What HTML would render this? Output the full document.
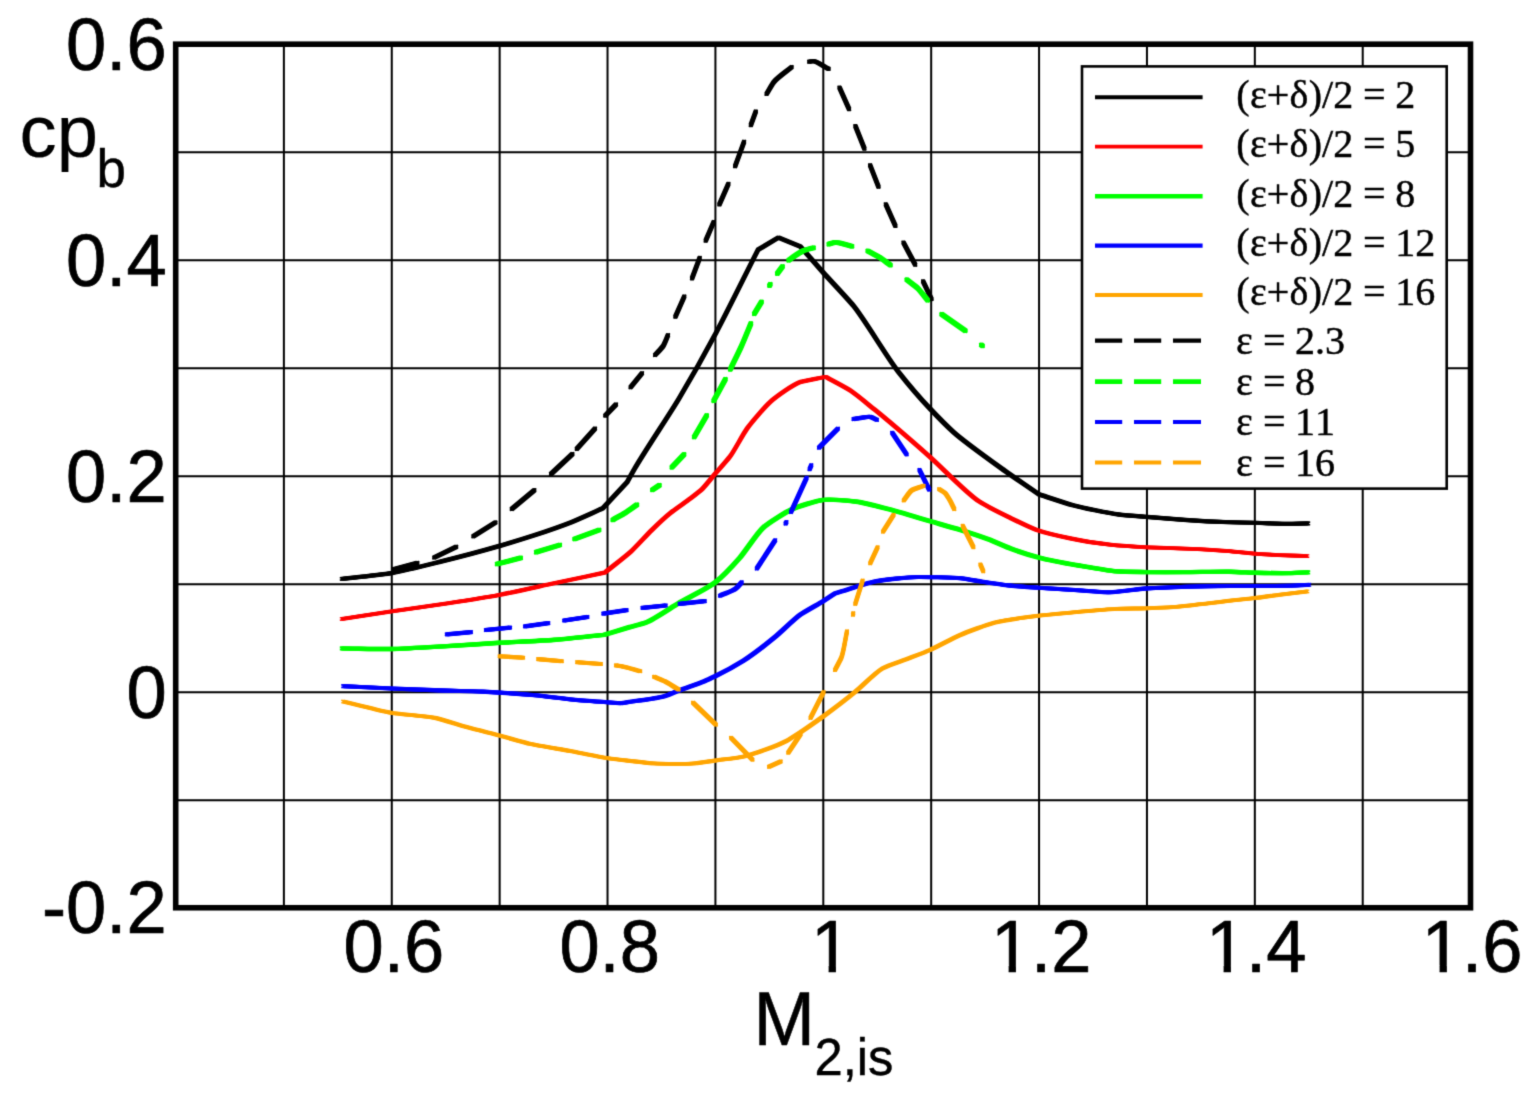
<!DOCTYPE html>
<html lang="en"><head><meta charset="utf-8"><title>Base pressure coefficient vs isentropic Mach number</title>
<style>html,body{margin:0;padding:0;background:#fff;}body{width:1533px;height:1095px;overflow:hidden;}svg{display:block;}.ax{font-family:"Liberation Sans",Arial,Helvetica,sans-serif;fill:#000;}.lg{font-family:"Liberation Serif","Times New Roman",Times,serif;fill:#000;}</style></head><body>
<svg width="1533" height="1095" viewBox="0 0 1533 1095">
<defs><filter id="bl" filterUnits="userSpaceOnUse" x="0" y="0" width="1533" height="1095" color-interpolation-filters="sRGB"><feConvolveMatrix order="3" kernelMatrix="1 5 1 5 25 5 1 5 1" divisor="49" edgeMode="duplicate" preserveAlpha="true"/></filter></defs>
<g filter="url(#bl)">
<rect width="1533" height="1095" fill="#fff"/>
<path d="M283.88 44.25V908.20M391.77 44.25V908.20M499.65 44.25V908.20M607.53 44.25V908.20M715.42 44.25V908.20M823.30 44.25V908.20M931.18 44.25V908.20M1039.07 44.25V908.20M1146.95 44.25V908.20M1254.83 44.25V908.20M1362.72 44.25V908.20M176.00 152.24H1470.60M176.00 260.24H1470.60M176.00 368.23H1470.60M176.00 476.23H1470.60M176.00 584.22H1470.60M176.00 692.21H1470.60M176.00 800.21H1470.60" fill="none" stroke="#000" stroke-width="2.0"/>
<defs><path id="c-black" d="M341.0 579.0C357.9 577.0 380.6 575.0 391.6 573.1C402.3 571.2 429.1 564.5 439.6 561.9C452.9 558.6 486.6 549.7 499.7 545.9C507.2 543.7 526.1 537.9 533.5 535.5C541.7 532.8 562.6 525.6 570.7 522.4C577.9 519.6 592.1 513.0 602.8 508.3L627.0 482.3C629.6 477.7 633.1 471.4 634.8 468.4C643.8 452.7 669.5 414.4 678.8 398.8C687.4 384.4 708.4 347.1 716.3 332.3C725.9 314.4 744.1 277.3 758.0 249.8L778.3 237.6L800.3 246.5C808.0 255.2 818.2 266.9 823.3 272.6C829.9 280.0 847.3 298.2 853.5 305.8C864.5 319.3 887.3 357.7 898.1 371.4C904.8 379.9 922.6 400.8 930.0 408.6C935.0 413.9 948.1 427.2 953.5 432.1C963.9 441.5 993.0 462.3 1004.4 470.5C1011.9 475.9 1027.5 486.4 1039.0 494.4C1050.3 498.0 1065.4 503.2 1072.9 505.2C1082.6 507.8 1107.9 513.1 1117.9 514.4C1124.2 515.2 1140.3 516.4 1146.6 516.9C1154.9 517.6 1176.1 519.3 1184.4 519.9C1194.4 520.6 1220.0 521.9 1230.0 522.2C1235.4 522.4 1249.1 522.7 1254.5 522.8C1262.0 523.0 1281.2 523.8 1288.7 523.8C1293.2 523.8 1302.2 523.5 1309.0 523.4"/></defs><g fill="none" stroke="#000000" stroke-width="1.75" stroke-linecap="butt" stroke-linejoin="round"><use href="#c-black" stroke-width="3.75"/><use href="#c-black" x="-1.2" y="-1.2"/><use href="#c-black" x="-1.2" y="1.2"/><use href="#c-black" x="1.2" y="-1.2"/><use href="#c-black" x="1.2" y="1.2"/></g>
<defs><path id="c-red" d="M341.0 619.1C357.9 616.5 380.5 613.0 391.6 611.4C403.9 609.6 435.1 605.3 447.4 603.4C458.9 601.6 488.2 597.0 499.7 594.8C511.1 592.7 539.8 586.3 551.1 583.9C563.0 581.4 587.0 576.3 605.0 572.5C613.8 565.4 625.8 556.2 631.3 551.2C636.0 546.8 647.0 534.7 651.6 530.2C655.6 526.3 666.0 516.5 670.4 513.0C674.0 510.1 683.9 503.3 687.6 500.5C690.7 498.1 698.9 492.2 701.7 489.5C705.0 486.4 712.1 477.3 715.0 473.9C718.3 470.1 726.9 460.7 729.9 456.7C734.3 450.9 742.8 434.3 747.1 428.5C752.0 421.8 765.8 405.6 772.1 400.3C777.4 395.8 792.3 385.2 798.7 382.6C804.2 380.4 816.7 378.8 825.7 376.9C834.2 381.6 845.8 387.5 851.1 391.0C856.6 394.6 869.5 405.5 874.6 409.6C887.1 419.7 918.0 446.4 930.0 457.0C940.9 466.6 966.8 493.5 978.9 501.3C985.0 505.2 1001.7 513.7 1008.3 516.9C1014.3 519.8 1029.5 527.3 1035.7 529.6C1043.2 532.3 1063.1 536.9 1070.9 538.5C1079.4 540.3 1101.4 543.7 1110.0 544.7C1118.0 545.6 1138.5 546.9 1146.6 547.3C1154.9 547.7 1176.1 548.2 1184.4 548.6C1194.4 549.0 1220.0 550.3 1230.0 551.2C1235.4 551.7 1249.1 553.3 1254.5 553.7C1259.9 554.1 1273.5 554.8 1278.9 555.1C1285.3 555.4 1298.4 555.8 1308.1 556.1"/></defs><g fill="none" stroke="#ff0000" stroke-width="1.45" stroke-linecap="butt" stroke-linejoin="round"><use href="#c-red" stroke-width="3.45"/><use href="#c-red" x="-1.2" y="-1.2"/><use href="#c-red" x="-1.2" y="1.2"/><use href="#c-red" x="1.2" y="-1.2"/><use href="#c-red" x="1.2" y="1.2"/></g>
<defs><path id="c-green" d="M341.0 648.4C357.9 648.6 380.5 649.2 391.6 649.0C403.9 648.8 435.1 646.8 447.4 646.1C458.9 645.4 488.2 643.5 499.7 642.8C511.9 642.1 542.9 640.8 555.0 639.8C565.8 639.0 587.7 636.5 604.0 634.9C612.7 632.3 624.3 628.7 630.0 627.0C633.4 626.0 642.4 623.8 645.7 622.6C653.6 619.7 671.6 607.2 678.9 603.0C686.8 598.4 708.0 588.1 715.1 582.5C721.1 577.9 734.6 563.7 739.6 558.0C745.2 551.7 756.9 533.2 763.1 527.7C768.7 522.7 785.5 512.2 792.4 509.1C798.8 506.2 816.4 500.8 823.3 499.9C830.6 499.0 849.7 500.7 857.0 501.7C864.9 502.8 884.5 508.1 892.2 510.1C900.6 512.3 921.7 518.8 930.0 521.2C936.5 523.1 953.0 527.6 959.4 529.6C965.9 531.6 982.3 537.0 988.7 539.4C993.9 541.4 1006.9 547.3 1012.2 549.2C1018.0 551.3 1033.0 556.0 1039.0 557.6C1047.6 559.9 1069.9 564.0 1078.7 565.5C1086.9 566.9 1107.7 570.6 1115.9 571.3C1122.6 571.9 1139.8 572.0 1146.6 572.1C1154.9 572.2 1176.1 572.1 1184.4 572.1C1194.4 572.1 1220.0 571.5 1230.0 571.7C1235.4 571.8 1249.1 572.5 1254.5 572.7C1262.0 572.9 1281.2 573.3 1288.7 573.1C1293.2 573.0 1302.2 572.6 1309.0 572.3"/></defs><g fill="none" stroke="#00ff00" stroke-width="2.00" stroke-linecap="butt" stroke-linejoin="round"><use href="#c-green" stroke-width="4.00"/><use href="#c-green" x="-1.2" y="-1.2"/><use href="#c-green" x="-1.2" y="1.2"/><use href="#c-green" x="1.2" y="-1.2"/><use href="#c-green" x="1.2" y="1.2"/></g>
<defs><path id="c-blue" d="M342.4 686.1C358.8 686.9 380.8 688.0 391.6 688.5C403.9 689.0 435.1 690.2 447.4 690.6C455.1 690.8 474.9 691.2 482.6 691.6C486.4 691.8 495.9 692.4 499.7 692.6C507.6 693.1 527.6 694.6 535.5 695.3C544.1 696.1 566.0 699.0 574.6 699.8C581.8 700.5 600.3 701.8 607.5 702.3C610.6 702.5 618.5 703.3 621.6 703.1C623.5 703.0 628.2 702.1 630.0 701.8C637.8 700.6 657.8 698.3 665.2 695.9C668.3 694.9 675.9 691.6 678.9 690.4C684.5 688.2 698.9 683.5 704.4 681.2C706.8 680.2 712.8 677.4 715.1 676.3C721.5 673.2 737.5 664.5 743.5 660.7C750.7 656.1 768.1 642.7 774.8 637.2C780.6 632.5 794.2 619.0 800.3 614.7C805.1 611.3 818.3 604.2 823.3 601.1C826.0 599.4 831.4 595.8 835.5 593.2C848.5 589.3 865.8 583.3 874.6 581.5C883.9 579.6 908.2 577.3 917.7 577.0C922.6 576.9 935.1 577.2 940.0 577.3C944.7 577.4 956.6 577.8 961.3 578.3C965.6 578.8 976.6 580.8 980.9 581.5C986.9 582.4 1002.3 584.7 1008.3 585.4C1015.0 586.2 1032.2 587.3 1039.0 587.8C1047.7 588.4 1070.0 589.7 1078.7 590.3C1085.2 590.7 1101.6 592.3 1108.1 592.3C1116.6 592.3 1138.1 589.0 1146.6 588.4C1154.9 587.8 1176.1 587.1 1184.4 586.8C1194.4 586.5 1220.0 586.1 1230.0 586.0C1235.4 586.0 1249.1 586.0 1254.5 586.0C1262.0 586.0 1281.2 586.0 1288.7 585.8C1293.4 585.7 1302.9 585.1 1310.0 584.8"/></defs><g fill="none" stroke="#0000ff" stroke-width="1.70" stroke-linecap="butt" stroke-linejoin="round"><use href="#c-blue" stroke-width="3.70"/><use href="#c-blue" x="-1.2" y="-1.2"/><use href="#c-blue" x="-1.2" y="1.2"/><use href="#c-blue" x="1.2" y="-1.2"/><use href="#c-blue" x="1.2" y="1.2"/></g>
<defs><path id="c-orange" d="M342.4 701.4C358.8 705.2 380.7 711.0 391.6 712.9C401.2 714.5 426.2 715.9 435.7 718.0C442.7 719.5 460.1 725.3 467.0 727.2C474.2 729.2 492.5 733.7 499.7 735.6C506.7 737.5 524.5 742.6 531.6 744.2C540.1 746.1 562.1 749.5 570.7 751.1C578.8 752.6 599.4 756.9 607.5 758.1C612.4 758.8 625.0 760.3 630.0 760.9C635.2 761.5 648.3 763.1 653.5 763.4C662.5 764.0 685.6 764.2 694.6 763.4C699.1 763.0 710.6 761.1 715.1 760.5C721.3 759.6 737.4 758.0 743.5 756.6C753.3 754.4 777.8 745.7 786.6 740.9C790.1 739.0 798.8 733.3 802.2 731.1C806.9 728.0 818.7 719.7 823.3 716.4C830.4 711.2 848.2 697.6 855.0 692.0C861.2 687.0 875.6 672.3 882.4 668.5C887.6 665.6 902.3 660.9 907.9 658.7C912.8 656.8 925.2 652.1 930.0 650.0C936.6 647.1 952.8 638.2 959.4 635.3C966.9 632.0 986.7 624.7 994.6 622.6C1004.1 620.1 1029.2 616.9 1039.0 615.7C1047.7 614.6 1070.0 612.6 1078.7 611.8C1086.9 611.1 1107.7 609.3 1115.9 608.9C1122.6 608.6 1139.8 608.5 1146.6 608.3C1152.8 608.1 1168.5 607.4 1174.6 606.9C1181.9 606.3 1200.6 604.2 1207.9 603.4C1212.8 602.8 1225.1 601.3 1230.0 600.7C1235.4 600.1 1249.1 598.7 1254.5 598.1C1259.9 597.5 1273.5 595.5 1278.9 594.8C1285.3 594.0 1298.4 592.5 1308.1 591.3"/></defs><g fill="none" stroke="#ffa500" stroke-width="1.45" stroke-linecap="butt" stroke-linejoin="round"><use href="#c-orange" stroke-width="3.45"/><use href="#c-orange" x="-1.2" y="-1.2"/><use href="#c-orange" x="-1.2" y="1.2"/><use href="#c-orange" x="1.2" y="-1.2"/><use href="#c-orange" x="1.2" y="1.2"/></g>
<defs><path id="c-dblack" d="M393.3 569.5L417.4 563.0M434.3 557.5L456.2 546.8M473.4 536.3L495.4 522.4M511.8 509.0L534.3 490.2M551.0 474.0L572.4 454.0M576.8 448.9L595.0 428.6M605.3 415.6L616.0 404.5M630.6 387.2L642.0 373.3M655.1 355.0C657.8 352.0 661.8 348.2 663.2 346.0C664.6 343.8 666.4 338.8 668.0 335.2M675.4 316.6L684.3 296.5M692.0 278.4L699.7 257.9M705.7 240.6L713.7 222.0M719.4 204.4L728.4 183.9M735.1 166.2L744.1 141.8M750.8 125.1L755.8 111.5M766.6 93.9C769.0 89.9 771.9 84.5 773.8 82.1C776.9 78.1 785.6 72.1 791.6 67.1M809.2 61.7C810.5 61.5 812.2 61.1 813.0 61.1C816.7 60.9 823.4 66.3 828.6 68.9M839.5 87.6L849.1 109.1M855.4 126.1L864.4 148.6M870.1 165.3L878.5 186.7M885.8 204.4L895.4 225.9M903.5 242.6L915.2 264.7M923.1 281.4L931.5 299.0"/></defs><g fill="none" stroke="#000000" stroke-width="1.95" stroke-linecap="round" stroke-linejoin="round"><use href="#c-dblack" stroke-width="3.95"/><use href="#c-dblack" x="-1.2" y="-1.2"/><use href="#c-dblack" x="-1.2" y="1.2"/><use href="#c-dblack" x="1.2" y="-1.2"/><use href="#c-dblack" x="1.2" y="1.2"/></g>
<defs><path id="c-dgreen" d="M497.1 564.0L520.7 557.9M536.2 552.2L559.8 545.0M574.6 539.0L599.1 530.0M612.8 519.9C616.8 517.6 622.4 514.6 625.0 513.0C627.7 511.3 632.9 507.5 636.9 504.8M652.4 489.9L659.4 485.2M671.9 467.3L684.0 454.4M694.2 437.0L706.7 415.5M713.7 400.7L725.4 379.3M730.3 369.4C734.0 361.6 739.2 351.2 741.5 346.0C743.7 341.1 747.8 331.0 750.9 323.5M754.3 313.8L761.5 301.9M769.5 285.6L770.3 284.2M777.3 273.5L782.5 266.5M788.7 260.3C790.8 258.8 793.6 256.7 795.0 255.8C796.8 254.6 801.5 251.5 803.5 250.6C805.6 249.7 810.2 248.7 813.5 247.8M828.8 244.2C830.7 243.6 833.2 242.7 834.5 242.5C838.3 241.9 846.2 245.0 852.0 246.3M867.8 250.9C872.0 253.3 877.8 256.2 880.5 257.9C882.8 259.3 887.1 262.7 890.4 265.1M906.8 279.7C910.4 282.5 915.5 286.1 917.7 288.2C920.2 290.6 924.4 296.2 927.7 300.2M941.7 314.3L965.3 330.7M981.3 344.9L982.5 345.9"/></defs><g fill="none" stroke="#00ff00" stroke-width="2.40" stroke-linecap="round" stroke-linejoin="round"><use href="#c-dgreen" stroke-width="4.40"/><use href="#c-dgreen" x="-1.2" y="-1.2"/><use href="#c-dgreen" x="-1.2" y="1.2"/><use href="#c-dgreen" x="1.2" y="-1.2"/><use href="#c-dgreen" x="1.2" y="1.2"/></g>
<defs><path id="c-dblue" d="M446.8 634.3L471.0 632.1M485.9 630.0L510.1 627.6M525.0 626.4L548.3 623.1M564.2 620.5L587.4 617.0M603.3 613.6L626.6 610.1M642.5 607.8L665.7 605.5M679.6 603.9L704.8 601.2M720.0 595.7C725.2 593.4 732.8 591.0 735.7 588.7C737.2 587.5 739.7 584.4 741.7 582.3M756.8 568.5L775.2 540.3M785.6 523.5L786.4 522.1M791.0 512.0L806.6 477.8M809.6 469.2L811.3 465.2M819.0 447.7L837.9 428.7M853.5 419.1C856.3 418.6 860.1 417.9 862.0 417.6C863.8 417.4 868.5 416.5 870.2 416.8C871.7 417.1 874.7 418.8 876.9 419.8M892.2 432.8L906.6 454.4M919.5 470.0L929.2 489.6"/></defs><g fill="none" stroke="#0000ff" stroke-width="1.85" stroke-linecap="round" stroke-linejoin="round"><use href="#c-dblue" stroke-width="3.85"/><use href="#c-dblue" x="-1.2" y="-1.2"/><use href="#c-dblue" x="-1.2" y="1.2"/><use href="#c-dblue" x="1.2" y="-1.2"/><use href="#c-dblue" x="1.2" y="1.2"/></g>
<defs><path id="c-dorange" d="M499.6 656.3L523.2 657.7M538.1 659.1L561.9 661.2M577.1 662.2L601.0 664.0M615.9 665.4C617.9 665.7 620.5 666.1 621.8 666.3C625.9 667.1 634.2 669.6 640.3 671.2M654.1 676.8C657.7 678.3 662.5 680.2 664.8 681.3C668.0 682.9 674.0 686.8 678.6 689.5M693.0 702.7L715.9 724.6M731.0 737.8L752.5 759.7M769.0 766.8L780.7 761.4M788.2 752.7L800.7 734.0M810.5 717.9L823.6 692.1M835.0 670.0C837.1 665.8 840.3 660.3 841.4 657.5C843.6 652.1 845.1 640.1 847.0 631.4M852.9 614.8L853.3 613.2M855.3 603.9L862.6 580.6M870.2 563.3L877.6 547.3M883.0 531.7L893.6 514.9M903.7 500.4C906.3 497.1 909.3 492.1 911.5 490.5C913.7 488.9 919.5 487.4 923.6 485.8M939.1 489.1C941.1 490.4 943.9 492.0 945.0 493.0C946.6 494.5 949.4 499.4 950.5 501.3C951.4 503.0 953.0 506.5 954.3 509.1M962.7 525.8L973.4 547.2M980.4 564.5L983.3 571.3"/></defs><g fill="none" stroke="#ffa500" stroke-width="1.75" stroke-linecap="round" stroke-linejoin="round"><use href="#c-dorange" stroke-width="3.75"/><use href="#c-dorange" x="-1.2" y="-1.2"/><use href="#c-dorange" x="-1.2" y="1.2"/><use href="#c-dorange" x="1.2" y="-1.2"/><use href="#c-dorange" x="1.2" y="1.2"/></g>
<rect x="175.70" y="44.20" width="1294.80" height="863.55" fill="none" stroke="#000" stroke-width="5.6"/>
<rect x="1082.0" y="66.4" width="364.7" height="422.2" fill="#fff" stroke="#000" stroke-width="2.6"/>
<path d="M1095 97.2H1202.6" stroke="#000000" stroke-width="4.15" fill="none"/>
<text class="lg" font-size="40.0" y="108.0" x="1236.2 1249.9 1266.8 1289.5 1308.8 1322.1 1333.2 1353.2 1362.9 1385.2 1395.2" stroke="#000" stroke-width="0.45">(ε+δ)/2 = 2</text>
<path d="M1095 146.6H1202.6" stroke="#ff0000" stroke-width="3.85" fill="none"/>
<text class="lg" font-size="40.0" y="157.3" x="1236.2 1249.9 1266.8 1289.5 1308.8 1322.1 1333.2 1353.2 1362.9 1385.2 1395.2" stroke="#000" stroke-width="0.45">(ε+δ)/2 = 5</text>
<path d="M1095 196.3H1202.6" stroke="#00ff00" stroke-width="4.4" fill="none"/>
<text class="lg" font-size="40.0" y="206.6" x="1236.2 1249.9 1266.8 1289.5 1308.8 1322.1 1333.2 1353.2 1362.9 1385.2 1395.2" stroke="#000" stroke-width="0.45">(ε+δ)/2 = 8</text>
<path d="M1095 245.6H1202.6" stroke="#0000ff" stroke-width="4.1" fill="none"/>
<text class="lg" font-size="40.0" y="255.9" x="1236.2 1249.9 1266.8 1289.5 1308.8 1322.1 1333.2 1353.2 1362.9 1385.2 1395.2 1415.2" stroke="#000" stroke-width="0.45">(ε+δ)/2 = 12</text>
<path d="M1095 295.0H1202.6" stroke="#ffa500" stroke-width="3.8" fill="none"/>
<text class="lg" font-size="40.0" y="305.2" x="1236.2 1249.9 1266.8 1289.5 1308.8 1322.1 1333.2 1353.2 1362.9 1385.2 1395.2 1415.2" stroke="#000" stroke-width="0.45">(ε+δ)/2 = 16</text>
<path d="M1095 340.5h27.2m11.8 0h27.2m11.8 0h28" stroke="#000000" stroke-width="4.25" fill="none"/>
<text class="lg" font-size="40.0" y="354.0" x="1236.0 1253.2 1262.9 1285.1 1295.1 1315.1 1325.1" stroke="#000" stroke-width="0.45">ε = 2.3</text>
<path d="M1095 381.6h27.2m11.8 0h27.2m11.8 0h28" stroke="#00ff00" stroke-width="4.6" fill="none"/>
<text class="lg" font-size="40.0" y="394.6" x="1236.0 1253.2 1262.9 1285.1 1295.1" stroke="#000" stroke-width="0.45">ε = 8</text>
<path d="M1095 422.0h27.2m11.8 0h27.2m11.8 0h28" stroke="#0000ff" stroke-width="4.2" fill="none"/>
<text class="lg" font-size="40.0" y="435.2" x="1236.0 1253.2 1262.9 1285.1 1295.1 1315.1" stroke="#000" stroke-width="0.45">ε = 11</text>
<path d="M1095 462.5h27.2m11.8 0h27.2m11.8 0h28" stroke="#ffa500" stroke-width="4.1" fill="none"/>
<text class="lg" font-size="40.0" y="475.8" x="1236.0 1253.2 1262.9 1285.1 1295.1 1315.1" stroke="#000" stroke-width="0.45">ε = 16</text>
<defs><clipPath id="one"><path clip-rule="evenodd" d="M-20 -86.8H220V40H-20Z M2.89 -6.20H17.73V6H2.89Z M25.02 -6.20H39.40V6H25.02Z"/></clipPath></defs>
<text class="ax" transform="translate(166.60 70.25) scale(1 1.02)" font-size="72.3" text-anchor="end" stroke="#000" stroke-width="0.7" stroke-linejoin="round">0.6</text>
<text class="ax" transform="translate(166.60 286.24) scale(1 1.02)" font-size="72.3" text-anchor="end" stroke="#000" stroke-width="0.7" stroke-linejoin="round">0.4</text>
<text class="ax" transform="translate(166.60 502.22) scale(1 1.02)" font-size="72.3" text-anchor="end" stroke="#000" stroke-width="0.7" stroke-linejoin="round">0.2</text>
<text class="ax" transform="translate(166.60 718.21) scale(1 1.02)" font-size="72.3" text-anchor="end" stroke="#000" stroke-width="0.7" stroke-linejoin="round">0</text>
<text class="ax" transform="translate(166.60 932.90) scale(1 1.02)" font-size="72.3" text-anchor="end" stroke="#000" stroke-width="0.7" stroke-linejoin="round">-0.2</text>
<text class="ax" transform="translate(343.61 971.90) scale(1 1.02)" font-size="72.3" text-anchor="start" stroke="#000" stroke-width="0.7" stroke-linejoin="round">0.6</text>
<text class="ax" transform="translate(559.38 971.90) scale(1 1.02)" font-size="72.3" text-anchor="start" stroke="#000" stroke-width="0.7" stroke-linejoin="round">0.8</text>
<text class="ax" transform="translate(810.90 971.90) scale(1 1.02)" font-size="72.3" text-anchor="start" stroke="#000" stroke-width="0.7" stroke-linejoin="round" clip-path="url(#one)">1</text>
<text class="ax" transform="translate(990.91 971.90) scale(1 1.02)" font-size="72.3" text-anchor="start" stroke="#000" stroke-width="0.7" stroke-linejoin="round" clip-path="url(#one)">1.2</text>
<text class="ax" transform="translate(1205.88 971.90) scale(1 1.02)" font-size="72.3" text-anchor="start" stroke="#000" stroke-width="0.7" stroke-linejoin="round" clip-path="url(#one)">1.4</text>
<text class="ax" transform="translate(1421.85 971.90) scale(1 1.02)" font-size="72.3" text-anchor="start" stroke="#000" stroke-width="0.7" stroke-linejoin="round" clip-path="url(#one)">1.6</text>
<text class="ax" transform="translate(19.60 157.30) scale(1 1.0)" font-size="74.2" stroke="#000" stroke-width="0.2" stroke-linejoin="round">cp<tspan x="76.80" y="29.70" font-size="53.00" stroke-width="0.4">b</tspan></text>
<text class="ax" transform="translate(753.40 1045.35) scale(1 1.026)" font-size="73.8" stroke="#000" stroke-width="0.5" stroke-linejoin="round">M<tspan x="61.10" y="28.90" font-size="50.75" stroke-width="0.4">2,is</tspan></text>
</g>
</svg></body></html>
